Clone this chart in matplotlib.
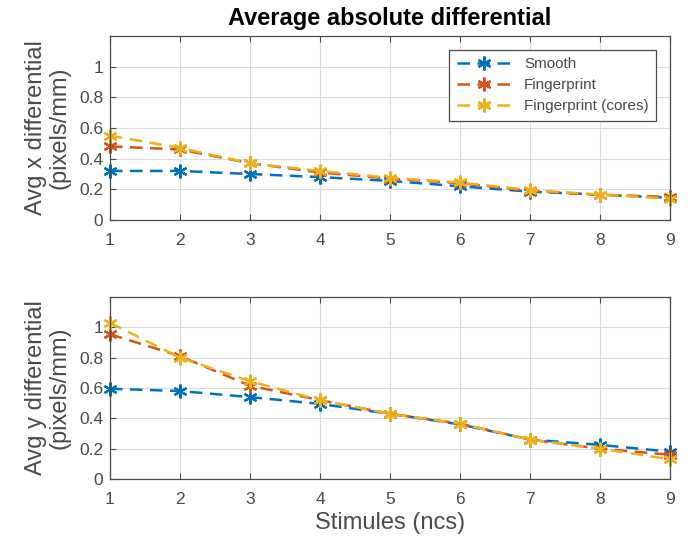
import matplotlib
matplotlib.use('Agg')
import matplotlib.pyplot as plt
import numpy as np

plt.rcParams['font.family'] = ['Liberation Sans', 'DejaVu Sans']

stimuli = [1, 2, 3, 4, 5, 6, 7, 8, 9]
labels = ['Smooth', 'Fingerprint', 'Fingerprint (cores)']
colors = ['#0072BD', '#D95319', '#EDB120']

# x differential
x_smooth = [0.32, 0.32, 0.30, 0.28, 0.255, 0.22, 0.185, 0.165, 0.145]
x_finger = [0.48, 0.46, 0.37, 0.31, 0.27, 0.24, 0.19, 0.165, 0.15]
x_cores = [0.55, 0.47, 0.37, 0.32, 0.275, 0.245, 0.195, 0.165, 0.14]

# y differential
y_smooth = [0.595, 0.58, 0.54, 0.495, 0.43, 0.36, 0.26, 0.225, 0.18]
y_finger = [0.955, 0.81, 0.615, 0.52, 0.43, 0.365, 0.26, 0.2, 0.16]
y_cores = [1.03, 0.80, 0.645, 0.52, 0.43, 0.365, 0.26, 0.2, 0.13]

W, H = 689, 542
fig = plt.figure(figsize=(W/100, H/100), dpi=100)
ax1 = fig.add_axes([110/W, 1-220/H, 560/W, 184/H])
ax2 = fig.add_axes([110/W, 1-479/H, 560/W, 182/H])

star = (6, 2, 0)
grey = '#4a4a4a'

def style(ax, ylabel):
    ax.set_xlim(1, 9)
    ax.set_ylim(0, 1.2)
    ax.set_xticks(stimuli)
    ax.set_yticks([0, 0.2, 0.4, 0.6, 0.8, 1.0])
    ax.set_yticklabels(['0', '0.2', '0.4', '0.6', '0.8', '1'])
    ax.grid(True, color='#dcdcdc', linewidth=0.8)
    ax.set_axisbelow(True)
    ax.tick_params(direction='in', length=4, labelsize=12.5, colors=grey,
                   top=True, right=False)
    ax.tick_params(axis='x', pad=9)
    ax.tick_params(axis='y', pad=5)
    for s in ax.spines.values():
        s.set_color(grey)
        s.set_linewidth(0.9)
    ax.set_ylabel(ylabel, fontsize=17, color=grey, linespacing=1.1, labelpad=6)

for vals, lab, c in zip([x_smooth, x_finger, x_cores], labels, colors):
    ax1.plot(stimuli, vals, '--', dashes=(5, 3), color=c, marker=star,
             markersize=10, markeredgewidth=1.6, linewidth=1.8, label=lab,
             clip_on=False)
for vals, c in zip([y_smooth, y_finger, y_cores], colors):
    ax2.plot(stimuli, vals, '--', dashes=(5, 3), color=c, marker=star,
             markersize=10, markeredgewidth=1.6, linewidth=1.8, clip_on=False)

style(ax1, 'Avg x differential\n(pixels/mm)')
style(ax2, 'Avg y differential\n(pixels/mm)')
ax1.set_title('Average absolute differential', fontsize=17, fontweight='bold', pad=8)
ax2.set_xlabel('Stimules (ncs)', fontsize=17, color=grey, labelpad=4)

leg = ax1.legend(loc='upper right', fontsize=11, fancybox=False, framealpha=1,
                 edgecolor=grey, borderaxespad=0.9, handlelength=3.6,
                 numpoints=1, labelcolor=grey, borderpad=0.5, labelspacing=0.45)
leg.get_frame().set_linewidth(0.9)

fig.savefig('out.png', dpi=100)
